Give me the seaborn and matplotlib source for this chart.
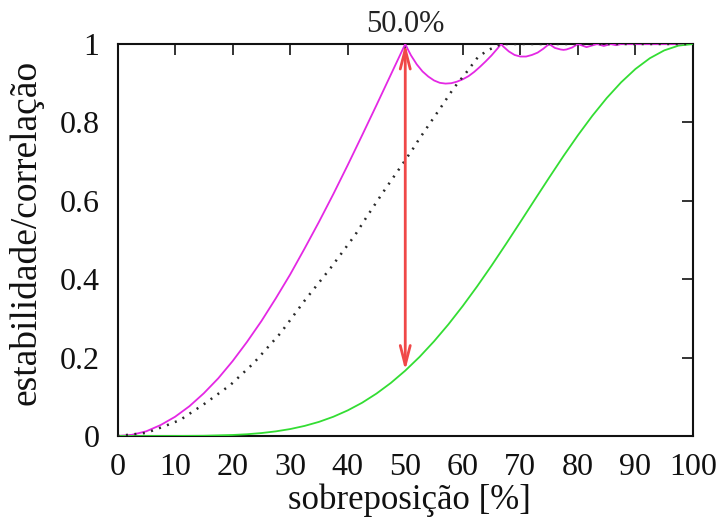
import numpy as np
import pandas as pd
import matplotlib
matplotlib.use("Agg")
import matplotlib.pyplot as plt
import seaborn as sns

# ---- data ----
stab_x = [0, 2.5, 5, 7.5, 10, 12.5, 15, 17.5, 20, 22.5, 25, 27.5, 30, 32.5, 35, 37.5,
          40, 42.5, 45, 47.5, 50, 50.5, 51, 52, 53, 54, 55, 56, 57, 58, 59, 60, 61, 62,
          63, 64, 65, 66, 66.67, 67, 68, 69, 70, 71, 72, 73, 74, 75, 76, 77, 77.5, 78,
          79, 80, 81.5, 83.33, 84.5, 85.71, 86.6, 87.5, 100]
stab_y = [0, 0.003, 0.012, 0.028, 0.049, 0.076, 0.109, 0.147, 0.191, 0.240, 0.293,
          0.351, 0.412, 0.478, 0.546, 0.617, 0.691, 0.767, 0.844, 0.922, 1.0, 0.985,
          0.971, 0.948, 0.930, 0.917, 0.907, 0.901, 0.899, 0.900, 0.904, 0.910, 0.918,
          0.929, 0.942, 0.956, 0.971, 0.988, 1.0, 0.994, 0.981, 0.972, 0.968, 0.968,
          0.972, 0.978, 0.988, 1.0, 0.990, 0.986, 0.985, 0.986, 0.991, 1.0, 0.992, 1.0,
          0.995, 1.0, 0.997, 1.0, 1.0]

dot_x = [0, 5, 8, 10.9, 15.2, 19.6, 23.6, 28.3, 32.6, 37.0, 41.3, 43.3, 46.2, 49.4,
         51.4, 52.3, 54.3, 56.4, 58.4, 60.7, 62.7, 64.5, 66.2, 66.7, 100]
dot_y = [0, 0.008, 0.024, 0.041, 0.083, 0.130, 0.185, 0.262, 0.347, 0.428, 0.513,
         0.559, 0.623, 0.691, 0.734, 0.755, 0.798, 0.843, 0.887, 0.929, 0.968, 0.985,
         0.997, 1.0, 1.0]

corr_x = [0, 5, 10, 15, 20, 22.5, 25, 27.5, 30, 32.5, 35, 37.5, 40, 42.5, 45, 47.5,
          50, 52.5, 55, 57.5, 60, 62.5, 65, 67.5, 70, 72.5, 75, 77.5, 80, 82.5, 85,
          87.5, 90, 92.5, 95, 97.5, 100]
corr_y = [0, 0.0, 0.0001, 0.0006, 0.0026, 0.0045, 0.0075, 0.0118, 0.0177, 0.0257,
          0.0360, 0.0491, 0.0653, 0.0848, 0.1082, 0.1354, 0.1667, 0.2020, 0.2415,
          0.2848, 0.3318, 0.3819, 0.4347, 0.4897, 0.5459, 0.6027, 0.6590, 0.7143,
          0.7671, 0.8167, 0.8620, 0.9021, 0.9363, 0.9637, 0.9837, 0.9959, 1.0]

arrow_x = 50
arrow_bottom = 0.167
arrow_top = 1.0
arrow_label = "50.0%"

xticks = [0, 10, 20, 30, 40, 50, 60, 70, 80, 90, 100]
yticks = [0, 0.2, 0.4, 0.6, 0.8, 1.0]
ytick_labels = ["0", "0.2", "0.4", "0.6", "0.8", "1"]

xlabel = "sobreposição [%]"
ylabel = "estabilidade/correlação"

# ---- style ----
sns.set_style("white")
plt.rcParams["font.family"] = ["Liberation Serif", "DejaVu Serif"]

fig = plt.figure(figsize=(7.21, 5.22), dpi=100)
ax = fig.add_axes([117.5 / 721, 1 - 436 / 522, 575.5 / 721, 392 / 522])

df_s = pd.DataFrame({"x": stab_x, "y": stab_y})
df_d = pd.DataFrame({"x": dot_x, "y": dot_y})
df_c = pd.DataFrame({"x": corr_x, "y": corr_y})

sns.lineplot(data=df_s, x="x", y="y", ax=ax, color="#e428e4", lw=1.3,
             estimator=None, sort=False, zorder=3)
sns.lineplot(data=df_d, x="x", y="y", ax=ax, color="#2a2a2a", lw=1.8,
             linestyle=(0, (0.8, 2.6)), estimator=None, sort=False, zorder=4)
sns.lineplot(data=df_c, x="x", y="y", ax=ax, color="#33dd33", lw=1.3,
             estimator=None, sort=False, zorder=3)

ax.annotate("", xy=(arrow_x, arrow_top), xytext=(arrow_x, arrow_bottom),
            arrowprops=dict(arrowstyle="<->,head_length=0.7,head_width=0.18",
                            color="#f04848", lw=2.0, shrinkA=0, shrinkB=0,
                            mutation_scale=20),
            zorder=6)
ax.annotate(arrow_label, xy=(arrow_x, arrow_top), xytext=(0, 9),
            textcoords="offset points", ha="center", va="baseline",
            fontsize=22, color="#222222", annotation_clip=False)

ax.set_xlim(0, 100)
ax.set_ylim(0, 1)
ax.set_xticks(xticks)
ax.set_yticks(yticks)
ax.set_yticklabels(ytick_labels)
ax.tick_params(direction="in", length=8, width=1.2, top=True, right=True,
               labelsize=23, colors="#111111", pad=12)
ax.tick_params(axis="y", pad=13)
for sp in ax.spines.values():
    sp.set_color("#111111")
    sp.set_linewidth(1.5)

ax.set_xlabel(xlabel, fontsize=25, color="#111111")
ax.set_ylabel(ylabel, fontsize=27, color="#111111")
ax.xaxis.set_label_coords(0.508, -0.122)
ax.xaxis.label.set_va("top")
ax.yaxis.set_label_coords(-0.128, 0.52)

fig.savefig("out.png", dpi=100)
